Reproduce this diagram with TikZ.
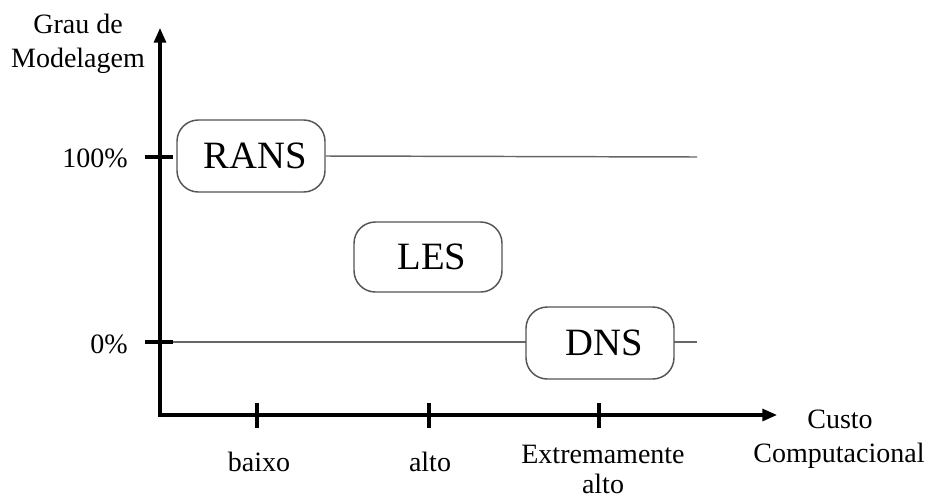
\documentclass[tikz,border=0pt]{standalone}
\usepackage{fontspec}
\setmainfont{Liberation Serif}
\usetikzlibrary{arrows.meta}
\definecolor{guidegray}{HTML}{666666}
\definecolor{boxgray}{HTML}{555555}
\begin{document}
\begin{tikzpicture}[x=0.75pt,y=-0.75pt,
  axis/.style={line width=2.3pt, line join=miter},
  tickmark/.style={line width=2.3pt},
  guide/.style={draw=guidegray, line width=1.1pt},
  lbl/.style={font=\fontsize{21}{25}\selectfont, inner sep=0pt},
  model/.style={draw=boxgray, line width=1.1pt, rounded corners=16pt, fill=white,
    minimum width=111pt, minimum height=54pt, inner sep=0pt,
    font=\fontsize{29}{34}\selectfont}
]
\useasboundingbox (0,0) rectangle (930,500);
% axes
\coordinate (ytip) at (160,28);
\coordinate (origin) at (160,415);
\coordinate (xtip) at (777,415);
\draw[axis, {Triangle[length=11pt,width=9pt]}-{Triangle[length=11pt,width=9pt]}] (ytip) -- (origin) -- (xtip);
% guide lines
\coordinate (g100end) at (697,157);
\coordinate (g0start) at (160,342);
\coordinate (g0end) at (697,342);
\draw[guide] (g0start) -- (g0end);
% y ticks
\coordinate (t100a) at (145,157); \coordinate (t100b) at (173,157);
\coordinate (t0a) at (145,342); \coordinate (t0b) at (173,342);
\draw[tickmark] (t100a) -- (t100b);
\draw[tickmark] (t0a) -- (t0b);
% x ticks
\coordinate (xa1) at (257,403); \coordinate (xa2) at (257,428);
\coordinate (xb1) at (429,403); \coordinate (xb2) at (429,428);
\coordinate (xc1) at (599,403); \coordinate (xc2) at (599,428);
\draw[tickmark] (xa1) -- (xa2);
\draw[tickmark] (xb1) -- (xb2);
\draw[tickmark] (xc1) -- (xc2);
% model boxes
\node[model] (rans) at (251,156) {\hspace*{6pt}RANS};
\node[model, minimum height=52.5pt] (les) at (428,257) {\hspace*{6pt}LES};
\node[model] (dns) at (600,343) {\hspace*{6pt}DNS};
\draw[guide] (rans.east) -- (g100end);
% labels
\node[lbl, anchor=base] (ylab1) at (78,33) {Grau de};
\node[lbl, anchor=base] (ylab2) at (78,67) {Modelagem};
\node[lbl, anchor=base east] (p100) at (128,167) {100\%};
\node[lbl, anchor=base east] (p0) at (128,353) {0\%};
\node[lbl, anchor=base] (lbaixo) at (259,471) {baixo};
\node[lbl, anchor=base] (lalto) at (430,471) {alto};
\node[lbl, anchor=base] (lext1) at (603,463) {Extremamente};
\node[lbl, anchor=base] (lext2) at (603,493) {alto};
\node[lbl, anchor=base] (xlab1) at (840,428) {Custo};
\node[lbl, anchor=base] (xlab2) at (839,462) {Computacional};
\end{tikzpicture}
\end{document}
